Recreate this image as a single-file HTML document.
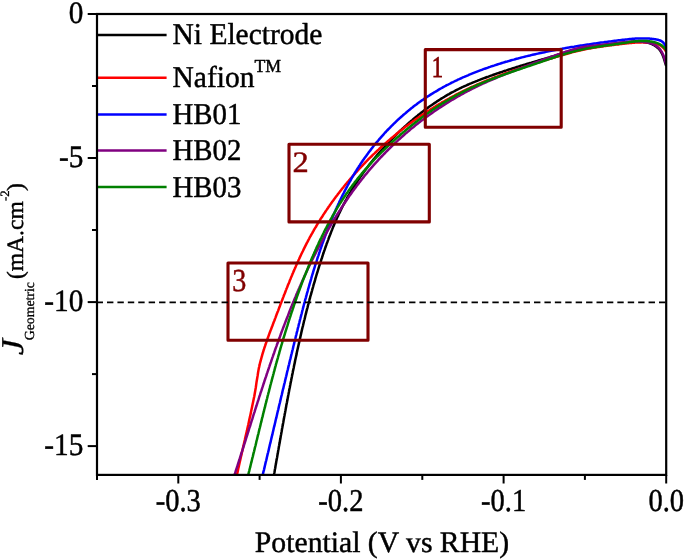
<!DOCTYPE html>
<html lang="en"><head><meta charset="utf-8"><title>HER polarization curves</title>
<style>html,body{margin:0;padding:0;background:#fff}body{width:685px;height:559px;overflow:hidden}</style>
</head><body>
<svg width="685" height="559" viewBox="0 0 685 559" style="display:block;will-change:transform" text-rendering="geometricPrecision">
<rect width="685" height="559" fill="#fff"/>
<defs><clipPath id="plot"><rect x="97.0" y="14.0" width="569.2" height="460.9"/></clipPath></defs>
<g clip-path="url(#plot)" fill="none" stroke-width="2.5" stroke-linejoin="round">
<path d="M666.2,66.0 L666.1,65.7 L666.0,65.4 L665.9,65.1 L665.8,64.8 L665.8,64.7 L665.7,64.4 L665.6,64.1 L665.5,63.8 L665.4,63.5 L665.4,63.4 L665.3,63.2 L665.2,62.8 L665.1,62.5 L665.0,62.2 L665.0,62.1 L664.9,61.9 L664.8,61.5 L664.7,61.2 L664.6,60.9 L664.6,60.8 L664.5,60.5 L664.4,60.2 L664.3,59.9 L664.2,59.6 L664.2,59.5 L664.1,59.2 L664.0,58.9 L663.9,58.6 L663.8,58.3 L663.8,58.1 L663.7,57.9 L663.6,57.6 L663.5,57.3 L663.4,57.0 L663.3,56.8 L663.2,56.6 L663.1,56.3 L663.0,56.0 L662.9,55.7 L662.8,55.5 L662.7,55.4 L662.6,55.1 L662.5,54.8 L662.4,54.5 L662.3,54.3 L662.2,54.2 L662.1,53.8 L661.9,53.5 L661.8,53.3 L661.7,53.1 L661.6,53.0 L661.5,52.7 L661.3,52.4 L661.2,52.1 L661.1,51.9 L661.0,51.8 L660.8,51.5 L660.7,51.2 L660.5,51.0 L660.3,50.8 L660.3,50.7 L660.1,50.4 L659.9,50.2 L659.7,49.9 L659.5,49.7 L659.5,49.7 L659.3,49.4 L659.1,49.1 L658.8,48.9 L658.6,48.7 L658.6,48.7 L658.3,48.4 L658.1,48.2 L657.8,48.0 L657.6,47.7 L657.6,47.7 L657.3,47.5 L657.1,47.3 L656.8,47.1 L656.5,46.9 L656.5,46.9 L656.3,46.7 L656.0,46.5 L655.7,46.3 L655.4,46.1 L655.4,46.0 L655.1,45.9 L654.8,45.7 L654.6,45.5 L654.3,45.4 L654.2,45.3 L654.0,45.2 L653.7,45.0 L653.4,44.9 L653.1,44.7 L653.0,44.7 L652.8,44.6 L652.5,44.4 L652.2,44.3 L651.9,44.1 L651.8,44.1 L651.6,44.0 L651.3,43.9 L651.0,43.8 L650.7,43.6 L650.6,43.6 L650.4,43.5 L650.0,43.4 L649.7,43.3 L649.4,43.2 L649.3,43.2 L649.1,43.1 L648.8,43.0 L648.5,42.9 L648.2,42.8 L648.0,42.8 L647.8,42.7 L647.5,42.7 L647.2,42.6 L646.9,42.5 L646.7,42.5 L646.6,42.4 L646.2,42.4 L645.9,42.3 L645.6,42.3 L645.4,42.2 L645.3,42.2 L644.9,42.1 L644.6,42.1 L644.3,42.0 L644.1,42.0 L644.0,42.0 L643.6,42.0 L643.3,41.9 L643.0,41.9 L642.7,41.9 L642.6,41.8 L642.3,41.8 L642.0,41.8 L641.6,41.8 L641.4,41.7 L641.3,41.7 L641.0,41.7 L640.6,41.7 L640.3,41.7 L640.0,41.7 L640.0,41.7 L639.6,41.6 L638.6,41.6 L637.2,41.6 L635.9,41.6 L634.5,41.7 L633.1,41.8 L631.7,41.8 L630.3,41.9 L628.9,42.0 L627.5,42.2 L626.1,42.3 L624.8,42.4 L623.4,42.6 L622.0,42.7 L620.6,42.9 L619.3,43.0 L617.9,43.2 L616.5,43.4 L615.2,43.5 L613.8,43.7 L612.4,43.9 L611.1,44.1 L609.7,44.2 L608.4,44.4 L607.0,44.6 L605.7,44.8 L604.3,45.0 L603.0,45.2 L601.7,45.4 L600.3,45.6 L599.0,45.8 L597.6,46.0 L596.3,46.2 L595.0,46.3 L593.6,46.5 L592.3,46.7 L591.0,46.9 L589.6,47.1 L588.3,47.4 L587.0,47.6 L585.7,47.8 L584.3,48.1 L583.0,48.3 L581.7,48.6 L580.4,48.8 L579.0,49.1 L577.7,49.4 L576.4,49.8 L575.1,50.1 L573.7,50.4 L572.4,50.8 L571.1,51.1 L569.8,51.5 L568.5,51.8 L567.1,52.2 L565.8,52.6 L564.5,53.0 L563.2,53.4 L561.8,53.7 L560.5,54.1 L559.2,54.5 L557.9,54.9 L556.6,55.3 L555.2,55.7 L553.9,56.1 L552.6,56.4 L551.3,56.8 L549.9,57.2 L548.6,57.6 L547.3,58.0 L546.0,58.4 L544.6,58.8 L543.3,59.1 L542.0,59.5 L540.7,59.9 L539.3,60.3 L538.0,60.7 L536.7,61.1 L535.4,61.5 L534.1,61.9 L532.7,62.3 L531.4,62.7 L530.1,63.0 L528.8,63.4 L527.4,63.8 L526.1,64.2 L524.8,64.6 L523.5,65.0 L522.2,65.4 L520.9,65.8 L519.6,66.2 L518.2,66.6 L516.9,67.0 L515.6,67.5 L514.3,67.9 L513.0,68.3 L511.7,68.7 L510.4,69.1 L509.1,69.5 L507.8,69.9 L506.5,70.4 L505.2,70.8 L503.9,71.2 L502.6,71.7 L501.3,72.1 L500.0,72.5 L498.7,73.0 L497.4,73.4 L496.1,73.8 L494.8,74.3 L493.6,74.7 L492.3,75.2 L491.0,75.6 L489.7,76.1 L488.5,76.6 L487.2,77.0 L485.9,77.5 L484.6,78.0 L483.4,78.4 L482.1,78.9 L480.8,79.4 L479.6,79.9 L478.3,80.4 L477.1,80.9 L475.8,81.4 L474.6,81.9 L473.3,82.4 L472.1,82.9 L470.9,83.4 L469.6,83.9 L468.4,84.5 L467.1,85.0 L465.9,85.6 L464.7,86.1 L463.5,86.7 L462.3,87.2 L461.0,87.8 L459.8,88.4 L458.6,89.0 L457.4,89.6 L456.2,90.2 L455.0,90.8 L453.8,91.5 L452.6,92.1 L451.4,92.7 L450.2,93.4 L449.1,94.1 L447.9,94.7 L446.7,95.4 L445.5,96.1 L444.4,96.8 L443.2,97.5 L442.1,98.2 L440.9,98.9 L439.7,99.7 L438.6,100.4 L437.4,101.1 L436.3,101.9 L435.2,102.7 L434.0,103.4 L432.9,104.2 L431.8,105.0 L430.6,105.8 L429.5,106.5 L428.4,107.3 L427.3,108.2 L426.2,109.0 L425.1,109.8 L424.0,110.6 L422.9,111.4 L421.8,112.3 L420.7,113.1 L419.6,114.0 L418.5,114.8 L417.5,115.7 L416.4,116.6 L415.3,117.4 L414.3,118.3 L413.2,119.2 L412.2,120.1 L411.1,121.0 L410.1,121.9 L409.0,122.8 L408.0,123.7 L406.9,124.6 L405.9,125.6 L404.9,126.5 L403.9,127.4 L402.8,128.4 L401.8,129.3 L400.8,130.3 L399.8,131.2 L398.8,132.2 L397.8,133.1 L396.8,134.1 L395.9,135.1 L394.9,136.0 L393.9,137.0 L392.9,138.0 L392.0,139.0 L391.0,140.0 L390.0,141.0 L389.1,141.9 L388.1,142.9 L387.2,144.0 L386.2,145.0 L385.3,146.0 L384.4,147.0 L383.5,148.0 L382.5,149.0 L381.6,150.0 L380.7,151.1 L379.8,152.1 L378.9,153.1 L378.0,154.2 L377.1,155.2 L376.2,156.3 L375.4,157.3 L374.5,158.4 L373.6,159.4 L372.7,160.5 L371.9,161.5 L371.0,162.6 L370.2,163.7 L369.3,164.7 L368.5,165.8 L367.7,166.9 L366.9,168.0 L366.0,169.1 L365.2,170.2 L364.4,171.2 L363.6,172.3 L362.8,173.4 L362.0,174.5 L361.2,175.7 L360.4,176.8 L359.7,177.9 L358.9,179.0 L358.1,180.1 L357.4,181.3 L356.6,182.4 L355.9,183.5 L355.1,184.7 L354.4,185.8 L353.7,186.9 L353.0,188.1 L352.2,189.2 L351.5,190.4 L350.8,191.6 L350.1,192.7 L349.5,193.9 L348.8,195.1 L348.1,196.2 L347.4,197.4 L346.8,198.6 L346.1,199.8 L345.5,201.0 L344.8,202.2 L344.2,203.4 L343.5,204.6 L342.9,205.8 L342.3,207.0 L341.7,208.2 L341.1,209.4 L340.5,210.7 L339.9,211.9 L339.3,213.1 L338.7,214.3 L338.2,215.6 L337.6,216.8 L337.0,218.1 L336.5,219.3 L335.9,220.6 L335.4,221.8 L334.8,223.1 L334.3,224.3 L333.8,225.6 L333.2,226.8 L332.7,228.1 L332.2,229.4 L331.7,230.6 L331.2,231.9 L330.7,233.2 L330.2,234.5 L329.7,235.7 L329.2,237.0 L328.7,238.3 L328.3,239.6 L327.8,240.9 L327.3,242.2 L326.8,243.4 L326.4,244.7 L325.9,246.0 L325.5,247.3 L325.0,248.6 L324.6,249.9 L324.1,251.2 L323.7,252.5 L323.2,253.8 L322.8,255.1 L322.4,256.4 L322.0,257.7 L321.5,259.0 L321.1,260.3 L320.7,261.6 L320.3,262.9 L319.9,264.2 L319.4,265.5 L319.0,266.8 L318.6,268.2 L318.2,269.5 L317.8,270.8 L317.4,272.1 L317.0,273.4 L316.6,274.7 L316.2,276.0 L315.8,277.3 L315.4,278.6 L315.1,279.9 L314.7,281.3 L314.3,282.6 L313.9,283.9 L313.5,285.2 L313.2,286.5 L312.8,287.8 L312.4,289.1 L312.1,290.5 L311.7,291.8 L311.3,293.1 L311.0,294.4 L310.6,295.7 L310.2,297.0 L309.9,298.4 L309.5,299.7 L309.2,301.0 L308.8,302.3 L308.5,303.6 L308.1,305.0 L307.8,306.3 L307.5,307.6 L307.1,308.9 L306.8,310.2 L306.4,311.6 L306.1,312.9 L305.8,314.2 L305.4,315.5 L305.1,316.9 L304.8,318.2 L304.5,319.5 L304.1,320.8 L303.8,322.2 L303.5,323.5 L303.2,324.8 L302.9,326.1 L302.5,327.5 L302.2,328.8 L301.9,330.1 L301.6,331.4 L301.3,332.8 L301.0,334.1 L300.7,335.4 L300.4,336.8 L300.1,338.1 L299.8,339.4 L299.5,340.8 L299.2,342.1 L298.9,343.4 L298.6,344.7 L298.3,346.1 L298.0,347.4 L297.7,348.7 L297.4,350.1 L297.1,351.4 L296.8,352.7 L296.6,354.1 L296.3,355.4 L296.0,356.7 L295.7,358.1 L295.4,359.4 L295.1,360.7 L294.9,362.1 L294.6,363.4 L294.3,364.8 L294.0,366.1 L293.8,367.4 L293.5,368.8 L293.2,370.1 L292.9,371.4 L292.7,372.8 L292.4,374.1 L292.1,375.4 L291.9,376.8 L291.6,378.1 L291.3,379.5 L291.1,380.8 L290.8,382.1 L290.5,383.5 L290.3,384.8 L290.0,386.2 L289.8,387.5 L289.5,388.8 L289.2,390.2 L289.0,391.5 L288.7,392.9 L288.5,394.2 L288.2,395.5 L288.0,396.9 L287.7,398.2 L287.5,399.6 L287.2,400.9 L287.0,402.3 L286.7,403.6 L286.4,404.9 L286.2,406.3 L286.0,407.6 L285.7,409.0 L285.5,410.3 L285.2,411.7 L285.0,413.0 L284.7,414.3 L284.5,415.7 L284.2,417.0 L284.0,418.4 L283.7,419.7 L283.5,421.1 L283.3,422.4 L283.0,423.8 L282.8,425.1 L282.5,426.4 L282.3,427.8 L282.0,429.1 L281.8,430.5 L281.6,431.8 L281.3,433.2 L281.1,434.5 L280.8,435.9 L280.6,437.2 L280.4,438.6 L280.1,439.9 L279.9,441.2 L279.7,442.6 L279.4,443.9 L279.2,445.3 L278.9,446.6 L278.7,448.0 L278.5,449.3 L278.2,450.7 L278.0,452.0 L277.8,453.4 L277.5,454.7 L277.3,456.1 L277.1,457.4 L276.8,458.8 L276.6,460.1 L276.3,461.5 L276.1,462.8 L275.9,464.1 L275.6,465.5 L275.4,466.8 L275.2,468.2 L274.9,469.5 L274.7,470.9 L274.5,472.2 L274.2,473.6 L274.0,474.9 L273.7,476.3 L273.5,477.6 L273.3,479.0 L273.0,480.3 L272.8,481.7 L272.6,483.0" stroke="#000000"/>
<path d="M666.3,52.0 L666.1,51.7 L666.0,51.4 L665.8,51.1 L665.7,51.0 L665.6,50.8 L665.4,50.5 L665.2,50.2 L665.1,50.0 L665.0,49.9 L664.8,49.6 L664.6,49.3 L664.4,49.1 L664.4,49.0 L664.2,48.8 L664.0,48.5 L663.7,48.3 L663.6,48.1 L663.5,48.0 L663.3,47.8 L663.0,47.6 L662.8,47.3 L662.8,47.3 L662.5,47.1 L662.3,46.9 L662.0,46.7 L661.9,46.6 L661.8,46.5 L661.5,46.3 L661.2,46.1 L661.0,45.9 L661.0,45.9 L660.7,45.7 L660.4,45.5 L660.1,45.4 L660.0,45.3 L659.8,45.2 L659.5,45.0 L659.3,44.9 L659.0,44.8 L659.0,44.7 L658.7,44.6 L658.4,44.5 L658.1,44.4 L658.0,44.3 L657.7,44.2 L657.4,44.1 L657.1,44.0 L657.0,44.0 L656.8,43.9 L656.5,43.8 L656.2,43.7 L655.9,43.6 L655.9,43.6 L655.5,43.6 L655.2,43.5 L654.9,43.4 L654.8,43.4 L654.6,43.3 L654.2,43.3 L653.9,43.2 L653.7,43.2 L653.6,43.1 L653.2,43.1 L652.9,43.0 L652.6,43.0 L652.5,43.0 L652.2,42.9 L651.9,42.9 L651.6,42.8 L651.4,42.8 L651.2,42.8 L650.9,42.8 L650.6,42.7 L650.2,42.7 L650.2,42.7 L649.9,42.7 L649.5,42.6 L649.2,42.6 L649.1,42.6 L648.9,42.6 L648.5,42.6 L648.2,42.5 L647.9,42.5 L647.9,42.5 L647.5,42.5 L647.2,42.5 L646.8,42.5 L646.8,42.4 L646.5,42.4 L646.2,42.4 L645.8,42.4 L645.6,42.4 L645.5,42.4 L645.2,42.4 L644.8,42.4 L644.5,42.4 L644.5,42.4 L644.2,42.4 L643.8,42.4 L643.5,42.4 L643.3,42.3 L643.1,42.3 L642.8,42.3 L642.5,42.3 L642.2,42.3 L642.1,42.3 L641.8,42.3 L641.5,42.4 L641.1,42.4 L641.0,42.4 L640.8,42.4 L640.5,42.4 L640.1,42.4 L639.9,42.4 L639.8,42.4 L639.4,42.4 L639.1,42.4 L638.8,42.4 L638.7,42.4 L638.4,42.4 L638.1,42.4 L637.8,42.5 L637.6,42.5 L637.4,42.5 L637.1,42.5 L636.8,42.5 L636.5,42.5 L636.4,42.5 L636.1,42.5 L635.8,42.6 L635.4,42.6 L635.3,42.6 L635.1,42.6 L634.7,42.6 L634.4,42.7 L634.2,42.7 L634.1,42.7 L633.7,42.7 L633.4,42.7 L633.1,42.8 L633.0,42.8 L632.7,42.8 L632.4,42.8 L632.1,42.8 L631.9,42.9 L631.7,42.9 L631.4,42.9 L631.1,42.9 L630.7,43.0 L630.7,43.0 L630.4,43.0 L630.1,43.0 L629.7,43.1 L629.6,43.1 L628.5,43.2 L627.3,43.3 L626.2,43.4 L625.0,43.6 L623.9,43.7 L622.7,43.8 L621.6,44.0 L620.5,44.1 L619.3,44.2 L618.2,44.4 L617.1,44.5 L615.9,44.6 L614.8,44.8 L613.6,44.9 L612.5,45.1 L611.4,45.2 L610.2,45.3 L609.1,45.5 L607.9,45.6 L606.8,45.8 L605.7,45.9 L604.5,46.1 L603.4,46.2 L602.3,46.4 L601.1,46.5 L600.0,46.7 L598.9,46.9 L597.7,47.0 L596.6,47.2 L595.5,47.4 L594.3,47.6 L593.2,47.8 L592.1,48.0 L591.0,48.2 L589.8,48.4 L588.7,48.6 L587.6,48.8 L586.4,49.0 L585.3,49.2 L584.2,49.5 L583.1,49.7 L581.9,49.9 L580.8,50.2 L579.7,50.4 L578.6,50.7 L577.4,51.0 L576.3,51.3 L575.2,51.5 L574.1,51.8 L572.9,52.1 L571.8,52.4 L570.7,52.7 L569.6,53.0 L568.5,53.4 L567.3,53.7 L566.2,54.0 L565.1,54.3 L564.0,54.6 L562.9,55.0 L561.8,55.3 L560.7,55.6 L559.5,55.9 L558.4,56.3 L557.3,56.6 L556.2,56.9 L555.1,57.3 L554.0,57.6 L552.9,57.9 L551.8,58.3 L550.7,58.6 L549.5,58.9 L548.4,59.3 L547.3,59.6 L546.2,59.9 L545.1,60.3 L544.0,60.6 L542.9,60.9 L541.8,61.3 L540.7,61.6 L539.6,61.9 L538.5,62.3 L537.4,62.6 L536.3,63.0 L535.2,63.3 L534.1,63.7 L533.0,64.0 L531.9,64.4 L530.9,64.7 L529.8,65.0 L528.7,65.4 L527.6,65.8 L526.5,66.1 L525.4,66.5 L524.3,66.8 L523.2,67.2 L522.1,67.5 L521.1,67.9 L520.0,68.3 L518.9,68.6 L517.8,69.0 L516.7,69.4 L515.7,69.7 L514.6,70.1 L513.5,70.5 L512.4,70.8 L511.3,71.2 L510.3,71.6 L509.2,72.0 L508.1,72.4 L507.1,72.7 L506.0,73.1 L504.9,73.5 L503.9,73.9 L502.8,74.3 L501.7,74.7 L500.7,75.1 L499.6,75.5 L498.5,75.9 L497.5,76.3 L496.4,76.7 L495.3,77.1 L494.3,77.5 L493.2,77.9 L492.2,78.3 L491.1,78.8 L490.1,79.2 L489.0,79.6 L488.0,80.0 L486.9,80.4 L485.9,80.9 L484.8,81.3 L483.8,81.7 L482.7,82.2 L481.7,82.6 L480.6,83.1 L479.6,83.5 L478.6,84.0 L477.5,84.4 L476.5,84.9 L475.5,85.3 L474.4,85.8 L473.4,86.3 L472.4,86.7 L471.3,87.2 L470.3,87.7 L469.3,88.2 L468.2,88.6 L467.2,89.1 L466.2,89.6 L465.2,90.1 L464.1,90.6 L463.1,91.1 L462.1,91.6 L461.1,92.1 L460.1,92.6 L459.1,93.1 L458.0,93.7 L457.0,94.2 L456.0,94.7 L455.0,95.2 L454.0,95.8 L453.0,96.3 L452.0,96.8 L451.0,97.4 L450.0,97.9 L449.0,98.5 L448.0,99.0 L447.0,99.6 L446.0,100.1 L445.0,100.7 L444.0,101.3 L443.0,101.8 L442.0,102.4 L441.1,103.0 L440.1,103.6 L439.1,104.1 L438.1,104.7 L437.1,105.3 L436.1,105.9 L435.2,106.5 L434.2,107.1 L433.2,107.7 L432.3,108.3 L431.3,108.9 L430.3,109.5 L429.3,110.2 L428.4,110.8 L427.4,111.4 L426.5,112.0 L425.5,112.7 L424.5,113.3 L423.6,113.9 L422.6,114.6 L421.7,115.2 L420.7,115.9 L419.8,116.5 L418.8,117.2 L417.9,117.8 L417.0,118.5 L416.0,119.1 L415.1,119.8 L414.1,120.5 L413.2,121.1 L412.3,121.8 L411.3,122.5 L410.4,123.2 L409.5,123.8 L408.6,124.5 L407.6,125.2 L406.7,125.9 L405.8,126.6 L404.9,127.3 L404.0,128.0 L403.1,128.7 L402.2,129.4 L401.3,130.1 L400.3,130.8 L399.4,131.6 L398.5,132.3 L397.6,133.0 L396.7,133.7 L395.9,134.5 L395.0,135.2 L394.1,135.9 L393.2,136.7 L392.3,137.4 L391.4,138.1 L390.5,138.9 L389.7,139.6 L388.8,140.4 L387.9,141.1 L387.0,141.9 L386.2,142.7 L385.3,143.4 L384.4,144.2 L383.6,144.9 L382.7,145.7 L381.9,146.5 L381.0,147.3 L380.2,148.0 L379.3,148.8 L378.5,149.6 L377.6,150.4 L376.8,151.2 L375.9,152.0 L375.1,152.8 L374.3,153.6 L373.4,154.4 L372.6,155.2 L371.8,156.0 L371.0,156.8 L370.1,157.6 L369.3,158.4 L368.5,159.2 L367.7,160.0 L366.9,160.9 L366.1,161.7 L365.3,162.5 L364.5,163.3 L363.7,164.2 L362.9,165.0 L362.1,165.8 L361.3,166.7 L360.5,167.5 L359.7,168.4 L358.9,169.2 L358.2,170.1 L357.4,170.9 L356.6,171.8 L355.8,172.6 L355.1,173.5 L354.3,174.3 L353.5,175.2 L352.8,176.1 L352.0,176.9 L351.3,177.8 L350.5,178.7 L349.8,179.5 L349.0,180.4 L348.3,181.3 L347.5,182.2 L346.8,183.1 L346.1,183.9 L345.3,184.8 L344.6,185.7 L343.9,186.6 L343.2,187.5 L342.4,188.4 L341.7,189.3 L341.0,190.2 L340.3,191.1 L339.6,192.0 L338.9,192.9 L338.2,193.8 L337.5,194.8 L336.8,195.7 L336.1,196.6 L335.4,197.5 L334.7,198.4 L334.1,199.3 L333.4,200.3 L332.7,201.2 L332.0,202.1 L331.4,203.1 L330.7,204.0 L330.0,204.9 L329.4,205.9 L328.7,206.8 L328.1,207.7 L327.4,208.7 L326.8,209.6 L326.1,210.6 L325.5,211.5 L324.9,212.5 L324.2,213.4 L323.6,214.4 L323.0,215.3 L322.4,216.3 L321.8,217.3 L321.1,218.2 L320.5,219.2 L319.9,220.2 L319.3,221.1 L318.7,222.1 L318.1,223.1 L317.5,224.0 L316.9,225.0 L316.4,226.0 L315.8,227.0 L315.2,227.9 L314.6,228.9 L314.0,229.9 L313.5,230.9 L312.9,231.9 L312.4,232.9 L311.8,233.9 L311.2,234.9 L310.7,235.9 L310.1,236.8 L309.6,237.8 L309.1,238.8 L308.5,239.8 L308.0,240.9 L307.5,241.9 L306.9,242.9 L306.4,243.9 L305.9,244.9 L305.4,245.9 L304.9,246.9 L304.4,247.9 L303.9,248.9 L303.4,249.9 L302.9,251.0 L302.4,252.0 L301.9,253.0 L301.4,254.0 L300.9,255.1 L300.4,256.1 L300.0,257.1 L299.5,258.1 L299.0,259.2 L298.5,260.2 L298.1,261.2 L297.6,262.3 L297.2,263.3 L296.7,264.3 L296.2,265.4 L295.8,266.4 L295.3,267.5 L294.9,268.5 L294.4,269.5 L294.0,270.6 L293.5,271.6 L293.1,272.7 L292.6,273.7 L292.2,274.8 L291.8,275.8 L291.3,276.9 L290.9,277.9 L290.5,279.0 L290.0,280.0 L289.6,281.1 L289.2,282.2 L288.8,283.2 L288.3,284.3 L287.9,285.3 L287.5,286.4 L287.1,287.5 L286.6,288.5 L286.2,289.6 L285.8,290.6 L285.4,291.7 L285.0,292.8 L284.6,293.8 L284.1,294.9 L283.7,296.0 L283.3,297.1 L282.9,298.1 L282.5,299.2 L282.1,300.3 L281.7,301.3 L281.3,302.4 L280.8,303.5 L280.4,304.6 L280.0,305.7 L279.6,306.7 L279.2,307.8 L278.8,308.9 L278.4,310.0 L278.0,311.1 L277.6,312.1 L277.1,313.2 L276.7,314.3 L276.3,315.4 L275.9,316.5 L275.5,317.6 L275.1,318.6 L274.7,319.7 L274.3,320.8 L273.8,321.9 L273.4,323.0 L273.0,324.1 L272.6,325.2 L272.2,326.3 L271.8,327.3 L271.4,328.4 L271.0,329.5 L270.5,330.6 L270.1,331.7 L269.7,332.8 L269.3,333.9 L268.9,335.0 L268.5,336.1 L268.1,337.2 L267.7,338.3 L267.3,339.4 L267.0,340.5 L266.6,341.6 L266.2,342.6 L265.8,343.7 L265.4,344.8 L265.1,345.9 L264.7,347.0 L264.3,348.1 L264.0,349.2 L263.6,350.3 L263.3,351.4 L263.0,352.5 L262.6,353.6 L262.3,354.7 L262.0,355.8 L261.7,356.9 L261.4,358.0 L261.1,359.1 L260.8,360.2 L260.5,361.3 L260.2,362.4 L259.9,363.5 L259.7,364.6 L259.4,365.7 L259.2,366.8 L258.9,367.9 L258.7,369.0 L258.5,370.1 L258.0,373.0 L257.6,375.9 L257.1,378.8 L256.6,381.7 L256.2,384.6 L255.8,387.5 L255.3,390.4 L254.8,393.3 L254.3,396.2 L253.7,399.0 L253.1,401.9 L252.5,404.8 L251.9,407.7 L251.3,410.6 L250.7,413.5 L250.1,416.4 L249.4,419.3 L248.8,422.2 L248.2,425.1 L247.5,428.0 L246.9,430.9 L246.2,433.8 L245.5,436.7 L244.9,439.6 L244.2,442.5 L243.6,445.4 L242.9,448.3 L242.2,451.2 L241.6,454.1 L240.9,456.9 L240.3,459.8 L239.6,462.7 L239.0,465.6 L238.3,468.5 L237.7,471.4 L237.1,474.3 L236.4,477.2 L235.8,480.1 L235.2,483.0" stroke="#ff0000"/>
<path d="M666.2,48.6 L666.1,48.3 L666.1,48.0 L666.0,47.7 L665.9,47.3 L665.9,47.3 L665.8,47.0 L665.7,46.7 L665.6,46.3 L665.5,46.0 L665.5,46.0 L665.3,45.7 L665.2,45.4 L665.0,45.1 L664.9,44.7 L664.8,44.7 L664.7,44.4 L664.5,44.1 L664.3,43.8 L664.1,43.6 L664.0,43.5 L663.9,43.3 L663.7,43.0 L663.4,42.8 L663.2,42.5 L663.1,42.4 L663.0,42.3 L662.7,42.1 L662.5,41.8 L662.2,41.6 L662.1,41.6 L661.9,41.5 L661.6,41.3 L661.4,41.1 L661.1,41.0 L660.9,40.9 L660.8,40.8 L660.5,40.7 L660.2,40.5 L659.9,40.4 L659.7,40.4 L659.6,40.3 L659.3,40.2 L659.0,40.1 L658.6,40.0 L658.4,39.9 L658.3,39.9 L658.0,39.8 L657.7,39.8 L657.4,39.7 L657.1,39.6 L657.0,39.6 L656.7,39.6 L656.4,39.5 L656.0,39.4 L655.8,39.4 L655.7,39.4 L655.4,39.3 L655.1,39.3 L654.7,39.2 L654.4,39.2 L654.4,39.2 L654.1,39.1 L653.7,39.1 L653.4,39.0 L653.1,39.0 L653.0,39.0 L652.7,38.9 L652.4,38.9 L652.1,38.9 L651.7,38.8 L651.7,38.8 L651.4,38.8 L651.1,38.7 L650.7,38.7 L650.4,38.7 L650.3,38.7 L650.1,38.7 L649.7,38.6 L649.4,38.6 L649.1,38.6 L649.0,38.6 L648.7,38.5 L648.4,38.5 L648.1,38.5 L647.7,38.5 L647.6,38.5 L647.4,38.5 L647.1,38.4 L646.7,38.4 L646.4,38.4 L646.2,38.4 L646.1,38.4 L645.7,38.4 L645.4,38.4 L645.1,38.4 L644.9,38.4 L644.7,38.4 L644.4,38.4 L644.0,38.4 L643.7,38.4 L643.5,38.4 L643.4,38.4 L643.0,38.4 L642.7,38.4 L642.4,38.4 L642.1,38.4 L642.0,38.4 L641.7,38.4 L641.4,38.4 L641.0,38.4 L640.8,38.4 L640.7,38.4 L640.3,38.4 L640.0,38.4 L639.7,38.4 L639.4,38.4 L639.3,38.4 L639.0,38.4 L638.7,38.4 L638.3,38.5 L638.0,38.5 L638.0,38.5 L637.6,38.5 L637.3,38.5 L637.0,38.5 L636.6,38.5 L636.6,38.5 L636.3,38.6 L636.0,38.6 L635.6,38.6 L635.3,38.6 L635.2,38.6 L634.9,38.6 L634.6,38.7 L634.3,38.7 L633.9,38.7 L633.9,38.7 L633.6,38.7 L633.3,38.8 L632.9,38.8 L632.6,38.8 L632.5,38.8 L632.2,38.8 L631.9,38.9 L631.6,38.9 L631.2,38.9 L631.1,38.9 L630.9,39.0 L629.7,39.1 L628.3,39.2 L627.0,39.4 L625.6,39.5 L624.2,39.7 L622.8,39.8 L621.4,40.0 L620.1,40.2 L618.7,40.3 L617.3,40.5 L616.0,40.7 L614.6,40.8 L613.2,41.0 L611.9,41.2 L610.5,41.4 L609.1,41.5 L607.8,41.7 L606.4,41.9 L605.0,42.1 L603.7,42.3 L602.3,42.4 L601.0,42.6 L599.6,42.8 L598.3,43.0 L596.9,43.2 L595.6,43.4 L594.2,43.6 L592.9,43.8 L591.5,44.0 L590.2,44.2 L588.8,44.4 L587.5,44.6 L586.1,44.8 L584.8,45.0 L583.4,45.2 L582.1,45.4 L580.8,45.6 L579.4,45.8 L578.1,46.0 L576.7,46.2 L575.4,46.4 L574.1,46.7 L572.7,46.9 L571.4,47.1 L570.0,47.3 L568.7,47.6 L567.4,47.8 L566.0,48.0 L564.7,48.3 L563.3,48.5 L562.0,48.8 L560.7,49.0 L559.3,49.2 L558.0,49.5 L556.7,49.8 L555.3,50.0 L554.0,50.3 L552.7,50.5 L551.3,50.8 L550.0,51.1 L548.6,51.3 L547.3,51.6 L546.0,51.9 L544.6,52.2 L543.3,52.4 L542.0,52.7 L540.6,53.0 L539.3,53.3 L537.9,53.6 L536.6,53.9 L535.3,54.2 L533.9,54.5 L532.6,54.8 L531.2,55.1 L529.9,55.5 L528.6,55.8 L527.2,56.1 L525.9,56.4 L524.5,56.8 L523.2,57.1 L521.9,57.4 L520.5,57.8 L519.2,58.1 L517.9,58.5 L516.5,58.8 L515.2,59.2 L513.8,59.6 L512.5,59.9 L511.2,60.3 L509.8,60.7 L508.5,61.1 L507.2,61.5 L505.8,61.8 L504.5,62.2 L503.2,62.6 L501.9,63.0 L500.5,63.5 L499.2,63.9 L497.9,64.3 L496.6,64.7 L495.3,65.1 L493.9,65.6 L492.6,66.0 L491.3,66.4 L490.0,66.9 L488.7,67.3 L487.4,67.8 L486.1,68.3 L484.8,68.7 L483.5,69.2 L482.2,69.7 L480.9,70.1 L479.6,70.6 L478.3,71.1 L477.0,71.6 L475.7,72.1 L474.4,72.6 L473.1,73.1 L471.8,73.7 L470.6,74.2 L469.3,74.7 L468.0,75.3 L466.7,75.8 L465.5,76.3 L464.2,76.9 L462.9,77.4 L461.7,78.0 L460.4,78.6 L459.2,79.2 L457.9,79.7 L456.7,80.3 L455.4,80.9 L454.2,81.5 L453.0,82.1 L451.7,82.7 L450.5,83.4 L449.3,84.0 L448.1,84.6 L446.8,85.2 L445.6,85.9 L444.4,86.5 L443.2,87.2 L442.0,87.9 L440.8,88.5 L439.6,89.2 L438.4,89.9 L437.3,90.6 L436.1,91.3 L434.9,92.0 L433.7,92.7 L432.6,93.4 L431.4,94.1 L430.2,94.9 L429.1,95.6 L427.9,96.3 L426.8,97.1 L425.7,97.8 L424.5,98.6 L423.4,99.4 L422.3,100.2 L421.1,100.9 L420.0,101.7 L418.9,102.5 L417.8,103.3 L416.7,104.2 L415.6,105.0 L414.5,105.8 L413.5,106.6 L412.4,107.5 L411.3,108.3 L410.2,109.2 L409.2,110.1 L408.1,110.9 L407.1,111.8 L406.0,112.7 L405.0,113.6 L403.9,114.5 L402.9,115.3 L401.9,116.3 L400.8,117.2 L399.8,118.1 L398.8,119.0 L397.8,119.9 L396.8,120.9 L395.8,121.8 L394.8,122.8 L393.9,123.7 L392.9,124.7 L391.9,125.6 L390.9,126.6 L390.0,127.6 L389.0,128.6 L388.1,129.5 L387.1,130.5 L386.2,131.5 L385.2,132.5 L384.3,133.5 L383.4,134.6 L382.5,135.6 L381.6,136.6 L380.7,137.6 L379.8,138.7 L378.9,139.7 L378.0,140.8 L377.1,141.8 L376.2,142.9 L375.4,143.9 L374.5,145.0 L373.6,146.0 L372.8,147.1 L371.9,148.2 L371.1,149.3 L370.3,150.4 L369.4,151.5 L368.6,152.6 L367.8,153.7 L367.0,154.8 L366.2,155.9 L365.4,157.0 L364.6,158.1 L363.8,159.2 L363.0,160.3 L362.2,161.5 L361.5,162.6 L360.7,163.7 L360.0,164.9 L359.2,166.0 L358.5,167.2 L357.7,168.3 L357.0,169.5 L356.3,170.7 L355.5,171.8 L354.8,173.0 L354.1,174.2 L353.4,175.3 L352.7,176.5 L352.0,177.7 L351.3,178.9 L350.7,180.1 L350.0,181.3 L349.3,182.4 L348.7,183.6 L348.0,184.8 L347.4,186.0 L346.7,187.3 L346.1,188.5 L345.4,189.7 L344.8,190.9 L344.2,192.1 L343.6,193.3 L342.9,194.6 L342.3,195.8 L341.7,197.0 L341.1,198.2 L340.5,199.5 L339.9,200.7 L339.3,202.0 L338.8,203.2 L338.2,204.4 L337.6,205.7 L337.0,206.9 L336.5,208.2 L335.9,209.4 L335.4,210.7 L334.8,212.0 L334.3,213.2 L333.7,214.5 L333.2,215.7 L332.7,217.0 L332.1,218.3 L331.6,219.5 L331.1,220.8 L330.6,222.1 L330.1,223.3 L329.5,224.6 L329.0,225.9 L328.5,227.2 L328.0,228.5 L327.5,229.7 L327.1,231.0 L326.6,232.3 L326.1,233.6 L325.6,234.9 L325.1,236.2 L324.7,237.4 L324.2,238.7 L323.7,240.0 L323.3,241.3 L322.8,242.6 L322.3,243.9 L321.9,245.2 L321.4,246.5 L321.0,247.8 L320.5,249.1 L320.1,250.4 L319.7,251.7 L319.2,253.0 L318.8,254.3 L318.4,255.6 L317.9,256.9 L317.5,258.2 L317.1,259.5 L316.7,260.8 L316.3,262.1 L315.8,263.4 L315.4,264.7 L315.0,266.0 L314.6,267.3 L314.2,268.6 L313.8,269.9 L313.4,271.2 L313.0,272.6 L312.6,273.9 L312.2,275.2 L311.8,276.5 L311.4,277.8 L311.1,279.1 L310.7,280.4 L310.3,281.8 L309.9,283.1 L309.5,284.4 L309.2,285.7 L308.8,287.0 L308.4,288.3 L308.0,289.7 L307.7,291.0 L307.3,292.3 L306.9,293.6 L306.6,294.9 L306.2,296.3 L305.9,297.6 L305.5,298.9 L305.1,300.2 L304.8,301.6 L304.4,302.9 L304.1,304.2 L303.7,305.5 L303.4,306.9 L303.0,308.2 L302.7,309.5 L302.3,310.8 L302.0,312.2 L301.7,313.5 L301.3,314.8 L301.0,316.2 L300.6,317.5 L300.3,318.8 L299.9,320.2 L299.6,321.5 L299.3,322.8 L298.9,324.1 L298.6,325.5 L298.3,326.8 L297.9,328.1 L297.6,329.5 L297.3,330.8 L296.9,332.1 L296.6,333.5 L296.3,334.8 L295.9,336.2 L295.6,337.5 L295.3,338.8 L294.9,340.2 L294.6,341.5 L294.3,342.8 L294.0,344.2 L293.6,345.5 L293.3,346.8 L293.0,348.2 L292.7,349.5 L292.3,350.9 L292.0,352.2 L291.7,353.5 L291.3,354.9 L291.0,356.2 L290.7,357.6 L290.4,358.9 L290.0,360.2 L289.7,361.6 L289.4,362.9 L289.1,364.3 L288.7,365.6 L288.4,366.9 L288.1,368.3 L287.8,369.6 L287.4,371.0 L287.1,372.3 L286.8,373.6 L286.5,375.0 L286.2,376.3 L285.8,377.7 L285.5,379.0 L285.2,380.3 L284.9,381.7 L284.6,383.0 L284.2,384.4 L283.9,385.7 L283.6,387.0 L283.3,388.4 L282.9,389.7 L282.6,391.1 L282.3,392.4 L282.0,393.7 L281.7,395.1 L281.3,396.4 L281.0,397.8 L280.7,399.1 L280.4,400.4 L280.1,401.8 L279.8,403.1 L279.4,404.5 L279.1,405.8 L278.8,407.1 L278.5,408.5 L278.2,409.8 L277.8,411.2 L277.5,412.5 L277.2,413.8 L276.9,415.2 L276.6,416.5 L276.3,417.9 L275.9,419.2 L275.6,420.5 L275.3,421.9 L275.0,423.2 L274.7,424.5 L274.4,425.9 L274.0,427.2 L273.7,428.5 L273.4,429.9 L273.1,431.2 L272.8,432.5 L272.5,433.9 L272.2,435.2 L271.8,436.6 L271.5,437.9 L271.2,439.2 L270.9,440.5 L270.6,441.9 L270.3,443.2 L269.9,444.5 L269.6,445.9 L269.3,447.2 L269.0,448.5 L268.7,449.9 L268.4,451.2 L268.1,452.5 L267.7,453.9 L267.4,455.2 L267.1,456.5 L266.8,457.8 L266.5,459.2 L266.2,460.5 L265.8,461.8 L265.5,463.1 L265.2,464.5 L264.9,465.8 L264.6,467.1 L264.3,468.4 L264.0,469.8 L263.6,471.1 L263.3,472.4 L263.0,473.7 L262.7,475.0 L262.4,476.4 L262.1,477.7 L261.8,479.0 L261.4,480.3 L261.1,481.6 L260.8,482.9" stroke="#0000ff"/>
<path d="M666.2,64.7 L666.1,64.4 L666.0,64.1 L665.9,63.8 L665.8,63.4 L665.8,63.4 L665.7,63.1 L665.6,62.8 L665.5,62.5 L665.5,62.1 L665.4,62.0 L665.4,61.8 L665.3,61.5 L665.2,61.1 L665.1,60.8 L665.1,60.7 L665.0,60.5 L664.9,60.2 L664.8,59.8 L664.7,59.5 L664.7,59.3 L664.6,59.2 L664.5,58.8 L664.5,58.5 L664.4,58.2 L664.3,58.0 L664.3,57.9 L664.2,57.5 L664.1,57.2 L663.9,56.9 L663.9,56.7 L663.8,56.6 L663.7,56.3 L663.6,56.0 L663.5,55.6 L663.4,55.4 L663.4,55.3 L663.3,55.0 L663.1,54.7 L663.0,54.4 L662.9,54.1 L662.9,54.1 L662.7,53.8 L662.6,53.5 L662.4,53.2 L662.3,52.9 L662.3,52.9 L662.1,52.6 L662.0,52.3 L661.8,52.0 L661.6,51.7 L661.6,51.7 L661.5,51.4 L661.3,51.1 L661.1,50.9 L660.9,50.6 L660.9,50.5 L660.7,50.3 L660.5,50.1 L660.3,49.8 L660.1,49.5 L660.0,49.4 L659.9,49.3 L659.7,49.0 L659.5,48.8 L659.2,48.5 L659.1,48.4 L659.0,48.3 L658.8,48.0 L658.5,47.8 L658.3,47.6 L658.1,47.4 L658.0,47.3 L657.8,47.1 L657.5,46.9 L657.3,46.7 L657.1,46.5 L657.0,46.5 L656.7,46.3 L656.5,46.1 L656.2,45.9 L655.9,45.7 L655.9,45.7 L655.6,45.5 L655.3,45.4 L655.1,45.2 L654.8,45.0 L654.8,45.0 L654.5,44.9 L654.2,44.7 L653.9,44.6 L653.6,44.4 L653.5,44.4 L653.3,44.3 L653.0,44.1 L652.7,44.0 L652.3,43.9 L652.3,43.8 L652.0,43.8 L651.7,43.6 L651.4,43.5 L651.1,43.4 L651.0,43.4 L650.8,43.3 L650.4,43.2 L650.1,43.1 L649.8,43.0 L649.6,43.0 L649.5,42.9 L649.1,42.8 L648.8,42.7 L648.5,42.7 L648.3,42.6 L648.1,42.6 L647.8,42.5 L647.5,42.4 L647.1,42.4 L646.9,42.3 L646.8,42.3 L646.4,42.3 L646.1,42.2 L645.8,42.1 L645.5,42.1 L645.4,42.1 L645.1,42.0 L644.7,42.0 L644.4,41.9 L644.1,41.9 L644.1,41.9 L643.7,41.9 L643.4,41.8 L643.0,41.8 L642.7,41.8 L642.7,41.8 L642.4,41.7 L642.0,41.7 L641.7,41.7 L641.3,41.7 L641.3,41.6 L641.0,41.6 L640.7,41.6 L640.3,41.6 L640.0,41.6 L639.9,41.6 L639.6,41.6 L639.3,41.6 L639.0,41.5 L638.6,41.5 L638.5,41.5 L637.1,41.5 L635.7,41.5 L634.3,41.6 L632.9,41.6 L631.6,41.7 L630.2,41.8 L628.8,41.9 L627.4,42.0 L626.1,42.1 L624.7,42.2 L623.3,42.3 L622.0,42.5 L620.6,42.6 L619.2,42.7 L617.8,42.9 L616.5,43.1 L615.1,43.2 L613.7,43.4 L612.4,43.5 L611.0,43.7 L609.6,43.9 L608.3,44.0 L606.9,44.2 L605.5,44.4 L604.2,44.5 L602.8,44.7 L601.5,44.9 L600.1,45.0 L598.7,45.2 L597.4,45.3 L596.0,45.4 L594.7,45.6 L593.3,45.7 L591.9,45.9 L590.6,46.0 L589.2,46.2 L587.9,46.4 L586.5,46.6 L585.2,46.8 L583.8,47.0 L582.5,47.2 L581.1,47.5 L579.8,47.8 L578.4,48.1 L577.1,48.4 L575.7,48.7 L574.4,49.1 L573.1,49.5 L571.7,49.9 L570.4,50.3 L569.0,50.7 L567.7,51.1 L566.4,51.5 L565.0,52.0 L563.7,52.4 L562.3,52.9 L561.0,53.4 L559.7,53.8 L558.4,54.3 L557.0,54.8 L555.7,55.2 L554.4,55.7 L553.0,56.2 L551.7,56.6 L550.4,57.1 L549.1,57.6 L547.7,58.1 L546.4,58.5 L545.1,59.0 L543.8,59.5 L542.5,60.0 L541.2,60.5 L539.8,61.0 L538.5,61.4 L537.2,61.9 L535.9,62.4 L534.6,62.9 L533.3,63.4 L532.0,63.9 L530.7,64.4 L529.4,64.9 L528.1,65.4 L526.8,65.9 L525.5,66.3 L524.2,66.8 L522.9,67.3 L521.6,67.8 L520.3,68.3 L519.0,68.8 L517.7,69.3 L516.4,69.8 L515.1,70.3 L513.9,70.8 L512.6,71.3 L511.3,71.8 L510.0,72.3 L508.7,72.9 L507.5,73.4 L506.2,73.9 L504.9,74.4 L503.6,74.9 L502.4,75.4 L501.1,75.9 L499.8,76.4 L498.6,76.9 L497.3,77.4 L496.0,78.0 L494.8,78.5 L493.5,79.0 L492.3,79.5 L491.0,80.1 L489.8,80.6 L488.5,81.2 L487.3,81.7 L486.0,82.3 L484.8,82.8 L483.5,83.4 L482.3,83.9 L481.0,84.5 L479.8,85.1 L478.6,85.7 L477.3,86.3 L476.1,86.9 L474.9,87.5 L473.6,88.1 L472.4,88.7 L471.2,89.3 L470.0,89.9 L468.8,90.6 L467.5,91.2 L466.3,91.8 L465.1,92.5 L463.9,93.1 L462.7,93.8 L461.5,94.5 L460.3,95.1 L459.1,95.8 L457.9,96.5 L456.7,97.2 L455.5,97.9 L454.3,98.6 L453.1,99.3 L451.9,100.0 L450.7,100.7 L449.5,101.4 L448.4,102.1 L447.2,102.9 L446.0,103.6 L444.8,104.4 L443.7,105.1 L442.5,105.9 L441.4,106.6 L440.2,107.4 L439.0,108.1 L437.9,108.9 L436.7,109.7 L435.6,110.5 L434.4,111.3 L433.3,112.1 L432.2,112.9 L431.0,113.7 L429.9,114.5 L428.8,115.3 L427.6,116.1 L426.5,116.9 L425.4,117.7 L424.3,118.6 L423.2,119.4 L422.0,120.3 L420.9,121.1 L419.8,122.0 L418.7,122.8 L417.6,123.7 L416.5,124.5 L415.4,125.4 L414.4,126.3 L413.3,127.2 L412.2,128.0 L411.1,128.9 L410.0,129.8 L409.0,130.7 L407.9,131.6 L406.9,132.5 L405.8,133.4 L404.7,134.3 L403.7,135.3 L402.6,136.2 L401.6,137.1 L400.6,138.0 L399.5,139.0 L398.5,139.9 L397.5,140.9 L396.4,141.8 L395.4,142.8 L394.4,143.7 L393.4,144.7 L392.4,145.6 L391.4,146.6 L390.4,147.6 L389.4,148.6 L388.4,149.5 L387.4,150.5 L386.4,151.5 L385.5,152.5 L384.5,153.5 L383.5,154.5 L382.6,155.5 L381.6,156.5 L380.6,157.5 L379.7,158.5 L378.7,159.5 L377.8,160.6 L376.9,161.6 L375.9,162.6 L375.0,163.7 L374.1,164.7 L373.2,165.7 L372.2,166.8 L371.3,167.8 L370.4,168.9 L369.5,169.9 L368.6,171.0 L367.8,172.0 L366.9,173.1 L366.0,174.2 L365.1,175.2 L364.2,176.3 L363.4,177.4 L362.5,178.5 L361.7,179.5 L360.8,180.6 L360.0,181.7 L359.1,182.8 L358.3,183.9 L357.4,185.0 L356.6,186.1 L355.8,187.2 L355.0,188.3 L354.1,189.4 L353.3,190.5 L352.5,191.6 L351.7,192.8 L350.9,193.9 L350.1,195.0 L349.3,196.1 L348.5,197.3 L347.8,198.4 L347.0,199.5 L346.2,200.7 L345.4,201.8 L344.7,203.0 L343.9,204.1 L343.2,205.2 L342.4,206.4 L341.6,207.5 L340.9,208.7 L340.2,209.9 L339.4,211.0 L338.7,212.2 L337.9,213.3 L337.2,214.5 L336.5,215.7 L335.8,216.9 L335.1,218.0 L334.3,219.2 L333.6,220.4 L332.9,221.6 L332.2,222.7 L331.5,223.9 L330.8,225.1 L330.1,226.3 L329.4,227.5 L328.8,228.7 L328.1,229.9 L327.4,231.1 L326.7,232.3 L326.0,233.5 L325.4,234.7 L324.7,235.9 L324.0,237.1 L323.4,238.3 L322.7,239.5 L322.1,240.7 L321.4,241.9 L320.8,243.2 L320.1,244.4 L319.5,245.6 L318.8,246.8 L318.2,248.0 L317.6,249.3 L316.9,250.5 L316.3,251.7 L315.7,252.9 L315.1,254.2 L314.5,255.4 L313.8,256.6 L313.2,257.9 L312.6,259.1 L312.0,260.3 L311.4,261.6 L310.8,262.8 L310.2,264.1 L309.6,265.3 L309.0,266.6 L308.4,267.8 L307.8,269.1 L307.2,270.3 L306.7,271.6 L306.1,272.8 L305.5,274.1 L304.9,275.3 L304.3,276.6 L303.8,277.8 L303.2,279.1 L302.6,280.4 L302.1,281.6 L301.5,282.9 L300.9,284.2 L300.4,285.4 L299.8,286.7 L299.3,288.0 L298.7,289.2 L298.2,290.5 L297.6,291.8 L297.1,293.0 L296.5,294.3 L296.0,295.6 L295.5,296.9 L294.9,298.2 L294.4,299.4 L293.9,300.7 L293.3,302.0 L292.8,303.3 L292.3,304.6 L291.8,305.8 L291.2,307.1 L290.7,308.4 L290.2,309.7 L289.7,311.0 L289.2,312.3 L288.7,313.6 L288.2,314.9 L287.7,316.2 L287.2,317.4 L286.7,318.7 L286.2,320.0 L285.7,321.3 L285.2,322.6 L284.7,323.9 L284.2,325.2 L283.7,326.5 L283.2,327.8 L282.7,329.1 L282.2,330.4 L281.7,331.7 L281.2,333.0 L280.8,334.3 L280.3,335.6 L279.8,337.0 L279.3,338.3 L278.8,339.6 L278.4,340.9 L277.9,342.2 L277.4,343.5 L276.9,344.8 L276.5,346.1 L276.0,347.4 L275.5,348.7 L275.1,350.0 L274.6,351.4 L274.2,352.7 L273.7,354.0 L273.2,355.3 L272.8,356.6 L272.3,357.9 L271.9,359.2 L271.4,360.6 L271.0,361.9 L270.5,363.2 L270.1,364.5 L269.6,365.8 L269.2,367.1 L268.7,368.5 L268.3,369.8 L267.8,371.1 L267.4,372.4 L266.9,373.7 L266.5,375.1 L266.1,376.4 L265.6,377.7 L265.2,379.0 L264.7,380.3 L264.3,381.7 L263.9,383.0 L263.4,384.3 L263.0,385.6 L262.6,386.9 L262.1,388.3 L261.7,389.6 L261.3,390.9 L260.8,392.2 L260.4,393.5 L260.0,394.9 L259.5,396.2 L259.1,397.5 L258.7,398.8 L258.3,400.2 L257.8,401.5 L257.4,402.8 L257.0,404.1 L256.6,405.5 L256.1,406.8 L255.7,408.1 L255.3,409.4 L254.9,410.7 L254.5,412.1 L254.0,413.4 L253.6,414.7 L253.2,416.0 L252.8,417.4 L252.4,418.7 L251.9,420.0 L251.5,421.3 L251.1,422.6 L250.7,424.0 L250.3,425.3 L249.9,426.6 L249.4,427.9 L249.0,429.2 L248.6,430.6 L248.2,431.9 L247.8,433.2 L247.4,434.5 L246.9,435.8 L246.5,437.2 L246.1,438.5 L245.7,439.8 L245.3,441.1 L244.9,442.4 L244.4,443.7 L244.0,445.1 L243.6,446.4 L243.2,447.7 L242.8,449.0 L242.4,450.3 L242.0,451.6 L241.5,452.9 L241.1,454.2 L240.7,455.6 L240.3,456.9 L239.9,458.2 L239.5,459.5 L239.0,460.8 L238.6,462.1 L238.2,463.4 L237.8,464.7 L237.4,466.0 L237.0,467.3 L236.5,468.6 L236.1,469.9 L235.7,471.2 L235.3,472.5 L234.9,473.8 L234.4,475.1 L234.0,476.4 L233.6,477.7 L233.2,479.0 L232.8,480.3 L232.3,481.6 L231.9,482.9" stroke="#800080"/>
<path d="M666.3,50.4 L666.1,50.1 L665.9,49.8 L665.7,49.5 L665.5,49.2 L665.5,49.2 L665.3,48.9 L665.1,48.7 L664.8,48.4 L664.6,48.1 L664.6,48.1 L664.4,47.9 L664.2,47.6 L663.9,47.4 L663.7,47.1 L663.7,47.1 L663.5,46.9 L663.2,46.7 L663.0,46.5 L662.7,46.2 L662.7,46.2 L662.4,46.0 L662.2,45.8 L661.9,45.6 L661.6,45.4 L661.6,45.4 L661.4,45.2 L661.1,45.1 L660.8,44.9 L660.5,44.7 L660.5,44.7 L660.3,44.6 L660.0,44.4 L659.7,44.2 L659.4,44.1 L659.3,44.0 L659.1,43.9 L658.8,43.8 L658.5,43.7 L658.2,43.5 L658.1,43.5 L657.9,43.4 L657.6,43.3 L657.3,43.1 L656.9,43.0 L656.8,43.0 L656.6,42.9 L656.3,42.8 L656.0,42.7 L655.7,42.6 L655.5,42.6 L655.4,42.5 L655.0,42.4 L654.7,42.3 L654.4,42.2 L654.2,42.2 L654.1,42.2 L653.7,42.1 L653.4,42.0 L653.1,41.9 L652.9,41.9 L652.8,41.9 L652.4,41.8 L652.1,41.7 L651.8,41.7 L651.6,41.6 L651.4,41.6 L651.1,41.6 L650.8,41.5 L650.4,41.5 L650.2,41.4 L650.1,41.4 L649.8,41.4 L649.4,41.3 L649.1,41.3 L648.9,41.3 L648.8,41.3 L648.4,41.2 L648.1,41.2 L647.8,41.2 L647.5,41.1 L647.4,41.1 L647.1,41.1 L646.8,41.1 L646.4,41.1 L646.2,41.0 L646.1,41.0 L645.8,41.0 L645.4,41.0 L645.1,41.0 L644.8,41.0 L644.8,41.0 L644.4,41.0 L644.1,41.0 L643.8,41.0 L643.5,41.0 L643.4,41.0 L643.1,41.0 L642.8,41.0 L642.4,41.0 L642.1,41.0 L642.1,41.0 L641.7,41.0 L641.4,41.0 L641.1,41.0 L640.8,41.0 L640.7,41.0 L640.4,41.0 L640.1,41.0 L639.7,41.0 L639.4,41.1 L639.4,41.1 L639.1,41.1 L638.7,41.1 L638.4,41.1 L638.1,41.1 L638.1,41.1 L637.7,41.2 L637.4,41.2 L637.1,41.2 L636.7,41.3 L636.7,41.3 L636.4,41.3 L636.1,41.3 L635.7,41.3 L635.4,41.4 L635.4,41.4 L635.1,41.4 L634.7,41.4 L634.4,41.5 L634.1,41.5 L634.0,41.5 L633.7,41.6 L633.4,41.6 L633.1,41.6 L632.7,41.7 L632.6,41.7 L632.4,41.7 L632.0,41.8 L631.7,41.8 L631.4,41.8 L631.3,41.9 L631.0,41.9 L630.7,41.9 L630.4,42.0 L630.0,42.0 L629.9,42.0 L629.7,42.1 L629.4,42.1 L628.6,42.2 L627.2,42.4 L625.9,42.7 L624.5,42.9 L623.2,43.1 L621.8,43.3 L620.5,43.5 L619.1,43.7 L617.8,43.9 L616.4,44.1 L615.1,44.3 L613.7,44.5 L612.4,44.7 L611.0,44.9 L609.7,45.1 L608.3,45.3 L607.0,45.5 L605.6,45.6 L604.3,45.8 L603.0,46.0 L601.6,46.2 L600.3,46.4 L598.9,46.6 L597.6,46.8 L596.2,47.0 L594.9,47.2 L593.6,47.4 L592.2,47.6 L590.9,47.9 L589.5,48.1 L588.2,48.3 L586.9,48.6 L585.5,48.8 L584.2,49.1 L582.9,49.4 L581.5,49.7 L580.2,50.0 L578.9,50.3 L577.5,50.6 L576.2,50.9 L574.9,51.2 L573.6,51.6 L572.2,51.9 L570.9,52.3 L569.6,52.7 L568.3,53.0 L566.9,53.4 L565.6,53.8 L564.3,54.2 L563.0,54.6 L561.7,55.0 L560.3,55.4 L559.0,55.9 L557.7,56.3 L556.4,56.7 L555.1,57.2 L553.8,57.6 L552.5,58.0 L551.2,58.5 L549.8,58.9 L548.5,59.4 L547.2,59.8 L545.9,60.2 L544.6,60.7 L543.3,61.1 L542.0,61.6 L540.7,62.0 L539.4,62.5 L538.1,62.9 L536.8,63.4 L535.5,63.8 L534.2,64.2 L532.9,64.7 L531.6,65.1 L530.4,65.6 L529.1,66.0 L527.8,66.4 L526.5,66.9 L525.2,67.3 L523.9,67.7 L522.6,68.2 L521.4,68.6 L520.1,69.0 L518.8,69.5 L517.5,69.9 L516.3,70.3 L515.0,70.8 L513.7,71.2 L512.4,71.6 L511.2,72.1 L509.9,72.5 L508.6,73.0 L507.4,73.4 L506.1,73.9 L504.8,74.3 L503.6,74.8 L502.3,75.2 L501.1,75.7 L499.8,76.1 L498.6,76.6 L497.3,77.1 L496.1,77.5 L494.8,78.0 L493.6,78.5 L492.3,78.9 L491.1,79.4 L489.8,79.9 L488.6,80.4 L487.4,80.9 L486.1,81.4 L484.9,81.9 L483.7,82.4 L482.4,82.9 L481.2,83.4 L480.0,83.9 L478.7,84.5 L477.5,85.0 L476.3,85.5 L475.1,86.1 L473.9,86.6 L472.7,87.2 L471.4,87.7 L470.2,88.3 L469.0,88.9 L467.8,89.4 L466.6,90.0 L465.4,90.6 L464.2,91.2 L463.0,91.8 L461.8,92.4 L460.6,93.0 L459.4,93.7 L458.2,94.3 L457.0,94.9 L455.8,95.6 L454.7,96.2 L453.5,96.9 L452.3,97.6 L451.1,98.2 L449.9,98.9 L448.8,99.6 L447.6,100.3 L446.4,101.0 L445.3,101.7 L444.1,102.4 L442.9,103.1 L441.8,103.8 L440.6,104.6 L439.5,105.3 L438.3,106.1 L437.2,106.8 L436.0,107.6 L434.9,108.3 L433.7,109.1 L432.6,109.8 L431.5,110.6 L430.3,111.4 L429.2,112.2 L428.1,113.0 L426.9,113.8 L425.8,114.6 L424.7,115.4 L423.6,116.2 L422.5,117.0 L421.4,117.8 L420.3,118.7 L419.2,119.5 L418.1,120.3 L417.0,121.2 L415.9,122.0 L414.8,122.9 L413.7,123.7 L412.6,124.6 L411.5,125.5 L410.5,126.3 L409.4,127.2 L408.3,128.1 L407.2,128.9 L406.2,129.8 L405.1,130.7 L404.1,131.6 L403.0,132.5 L402.0,133.4 L400.9,134.3 L399.9,135.2 L398.9,136.1 L397.8,137.0 L396.8,137.9 L395.8,138.8 L394.7,139.8 L393.7,140.7 L392.7,141.6 L391.7,142.5 L390.7,143.5 L389.7,144.4 L388.7,145.3 L387.7,146.3 L386.7,147.2 L385.7,148.1 L384.8,149.1 L383.8,150.0 L382.8,151.0 L381.8,151.9 L380.9,152.9 L379.9,153.9 L379.0,154.8 L378.0,155.8 L377.1,156.7 L376.1,157.7 L375.2,158.7 L374.2,159.7 L373.3,160.7 L372.4,161.6 L371.5,162.6 L370.6,163.6 L369.7,164.6 L368.8,165.6 L367.9,166.6 L367.0,167.6 L366.1,168.6 L365.2,169.6 L364.3,170.7 L363.4,171.7 L362.6,172.7 L361.7,173.7 L360.8,174.8 L360.0,175.8 L359.1,176.8 L358.3,177.9 L357.4,178.9 L356.6,180.0 L355.8,181.0 L354.9,182.1 L354.1,183.2 L353.3,184.2 L352.5,185.3 L351.7,186.4 L350.9,187.5 L350.1,188.6 L349.3,189.7 L348.5,190.8 L347.8,191.9 L347.0,193.0 L346.2,194.1 L345.5,195.2 L344.7,196.3 L344.0,197.4 L343.2,198.6 L342.5,199.7 L341.7,200.8 L341.0,202.0 L340.3,203.1 L339.6,204.2 L338.9,205.4 L338.1,206.6 L337.4,207.7 L336.7,208.9 L336.0,210.0 L335.4,211.2 L334.7,212.4 L334.0,213.6 L333.3,214.7 L332.6,215.9 L332.0,217.1 L331.3,218.3 L330.7,219.5 L330.0,220.7 L329.4,221.9 L328.7,223.1 L328.1,224.3 L327.4,225.5 L326.8,226.7 L326.2,227.9 L325.5,229.1 L324.9,230.3 L324.3,231.5 L323.7,232.8 L323.1,234.0 L322.5,235.2 L321.9,236.4 L321.3,237.7 L320.7,238.9 L320.1,240.1 L319.5,241.4 L318.9,242.6 L318.4,243.8 L317.8,245.1 L317.2,246.3 L316.6,247.6 L316.1,248.8 L315.5,250.1 L315.0,251.3 L314.4,252.6 L313.9,253.8 L313.3,255.1 L312.8,256.3 L312.2,257.6 L311.7,258.8 L311.2,260.1 L310.6,261.3 L310.1,262.6 L309.6,263.9 L309.1,265.1 L308.5,266.4 L308.0,267.7 L307.5,268.9 L307.0,270.2 L306.5,271.4 L306.0,272.7 L305.5,274.0 L305.0,275.2 L304.5,276.5 L304.0,277.8 L303.5,279.1 L303.0,280.3 L302.5,281.6 L302.0,282.9 L301.6,284.1 L301.1,285.4 L300.6,286.7 L300.1,288.0 L299.7,289.2 L299.2,290.5 L298.7,291.8 L298.3,293.1 L297.8,294.4 L297.4,295.6 L296.9,296.9 L296.5,298.2 L296.0,299.5 L295.6,300.8 L295.1,302.0 L294.7,303.3 L294.2,304.6 L293.8,305.9 L293.4,307.2 L292.9,308.5 L292.5,309.8 L292.1,311.0 L291.6,312.3 L291.2,313.6 L290.8,314.9 L290.4,316.2 L289.9,317.5 L289.5,318.8 L289.1,320.1 L288.7,321.4 L288.3,322.7 L287.9,324.0 L287.5,325.3 L287.1,326.5 L286.7,327.8 L286.3,329.1 L285.9,330.4 L285.5,331.7 L285.1,333.0 L284.7,334.3 L284.3,335.6 L283.9,336.9 L283.5,338.2 L283.1,339.5 L282.7,340.8 L282.3,342.1 L282.0,343.4 L281.6,344.7 L281.2,346.0 L280.8,347.3 L280.4,348.6 L280.1,349.9 L279.7,351.2 L279.3,352.6 L279.0,353.9 L278.6,355.2 L278.2,356.5 L277.9,357.8 L277.5,359.1 L277.1,360.4 L276.8,361.7 L276.4,363.0 L276.0,364.3 L275.7,365.6 L275.3,366.9 L275.0,368.2 L274.6,369.6 L274.3,370.9 L273.9,372.2 L273.6,373.5 L273.2,374.8 L272.9,376.1 L272.5,377.4 L272.2,378.7 L271.8,380.1 L271.5,381.4 L271.1,382.7 L270.8,384.0 L270.4,385.3 L270.1,386.6 L269.8,387.9 L269.4,389.3 L269.1,390.6 L268.8,391.9 L268.4,393.2 L268.1,394.5 L267.7,395.8 L267.4,397.2 L267.1,398.5 L266.7,399.8 L266.4,401.1 L266.1,402.4 L265.7,403.7 L265.4,405.1 L265.1,406.4 L264.8,407.7 L264.4,409.0 L264.1,410.3 L263.8,411.7 L263.4,413.0 L263.1,414.3 L262.8,415.6 L262.5,416.9 L262.1,418.2 L261.8,419.6 L261.5,420.9 L261.2,422.2 L260.8,423.5 L260.5,424.9 L260.2,426.2 L259.9,427.5 L259.5,428.8 L259.2,430.1 L258.9,431.5 L258.6,432.8 L258.3,434.1 L257.9,435.4 L257.6,436.7 L257.3,438.1 L257.0,439.4 L256.6,440.7 L256.3,442.0 L256.0,443.4 L255.7,444.7 L255.4,446.0 L255.0,447.3 L254.7,448.6 L254.4,450.0 L254.1,451.3 L253.7,452.6 L253.4,453.9 L253.1,455.3 L252.8,456.6 L252.4,457.9 L252.1,459.2 L251.8,460.5 L251.5,461.9 L251.1,463.2 L250.8,464.5 L250.5,465.8 L250.2,467.2 L249.8,468.5 L249.5,469.8 L249.2,471.1 L248.8,472.4 L248.5,473.8 L248.2,475.1 L247.9,476.4 L247.5,477.7 L247.2,479.0 L246.9,480.4 L246.5,481.7 L246.2,483.0" stroke="#008000"/>
</g>
<line x1="97.0" y1="35.1" x2="166.6" y2="35.1" stroke="#000000" stroke-width="2.5"/>
<text transform="translate(172.5,44.2) scale(1.0,1.025)" font-family="'Liberation Serif','Times New Roman',Times,serif" font-size="29.5" stroke="#000" stroke-width="0.45" stroke-linejoin="round">Ni Electrode</text>
<line x1="97.0" y1="77.8" x2="166.6" y2="77.8" stroke="#ff0000" stroke-width="2.5"/>
<text transform="translate(172.5,86.9) scale(1.0,1.025)" font-family="'Liberation Serif','Times New Roman',Times,serif" font-size="29.5" stroke="#000" stroke-width="0.45" stroke-linejoin="round">Nafion<tspan font-size="17.8" dy="-14.4">TM</tspan></text>
<line x1="97.0" y1="114.5" x2="166.6" y2="114.5" stroke="#0000ff" stroke-width="2.5"/>
<text transform="translate(172.5,123.6) scale(0.978,1.025)" font-family="'Liberation Serif','Times New Roman',Times,serif" font-size="29.5" stroke="#000" stroke-width="0.45" stroke-linejoin="round">HB01</text>
<line x1="97.0" y1="150.6" x2="166.6" y2="150.6" stroke="#800080" stroke-width="2.5"/>
<text transform="translate(172.5,160.0) scale(0.978,1.025)" font-family="'Liberation Serif','Times New Roman',Times,serif" font-size="29.5" stroke="#000" stroke-width="0.45" stroke-linejoin="round">HB02</text>
<line x1="97.0" y1="186.9" x2="166.6" y2="186.9" stroke="#008000" stroke-width="2.5"/>
<text transform="translate(172.5,196.6) scale(0.978,1.025)" font-family="'Liberation Serif','Times New Roman',Times,serif" font-size="29.5" stroke="#000" stroke-width="0.45" stroke-linejoin="round">HB03</text>
<rect x="425.3" y="49.6" width="135.9" height="77.6" fill="none" stroke="#800000" stroke-width="3.1" stroke-linejoin="round"/>
<text transform="translate(431.7,77.4) scale(0.76,1.015)" font-family="'Liberation Serif','Times New Roman',Times,serif" font-size="29.6" fill="#800000" stroke="#800000" stroke-width="0.85">1</text>
<rect x="289" y="144.3" width="140.3" height="77.6" fill="none" stroke="#800000" stroke-width="3.1" stroke-linejoin="round"/>
<text transform="translate(292.6,171.5) scale(1.1,1.0)" font-family="'Liberation Serif','Times New Roman',Times,serif" font-size="29.6" fill="#800000" stroke="#800000" stroke-width="0.45">2</text>
<rect x="228" y="263" width="140.0" height="77.3" fill="none" stroke="#800000" stroke-width="3.1" stroke-linejoin="round"/>
<text transform="translate(232.2,291.2) scale(0.95,1.08)" font-family="'Liberation Serif','Times New Roman',Times,serif" font-size="29.6" fill="#800000" stroke="#800000" stroke-width="0.45">3</text>
<line x1="97.0" y1="302.3" x2="666.2" y2="302.3" stroke="#000" stroke-width="1.8" stroke-dasharray="6.4 4.015" stroke-dashoffset="0.415"/>
<rect x="97.0" y="14.0" width="569.2" height="460.9" fill="none" stroke="#000" stroke-width="2.2"/>
<g stroke="#000" stroke-width="2">
<line x1="87.7" y1="14.0" x2="97.0" y2="14.0"/>
<line x1="87.7" y1="158.0" x2="97.0" y2="158.0"/>
<line x1="87.7" y1="302.1" x2="97.0" y2="302.1"/>
<line x1="87.7" y1="446.1" x2="97.0" y2="446.1"/>
<line x1="92.0" y1="86.0" x2="97.0" y2="86.0"/>
<line x1="92.0" y1="230.0" x2="97.0" y2="230.0"/>
<line x1="92.0" y1="374.1" x2="97.0" y2="374.1"/>
<line x1="666.2" y1="474.9" x2="666.2" y2="483.5"/>
<line x1="503.6" y1="474.9" x2="503.6" y2="483.5"/>
<line x1="340.9" y1="474.9" x2="340.9" y2="483.5"/>
<line x1="178.3" y1="474.9" x2="178.3" y2="483.5"/>
<line x1="584.9" y1="474.9" x2="584.9" y2="479.9"/>
<line x1="422.3" y1="474.9" x2="422.3" y2="479.9"/>
<line x1="259.6" y1="474.9" x2="259.6" y2="479.9"/>
<line x1="97.0" y1="474.9" x2="97.0" y2="479.9"/>
</g>
<g font-family="'Liberation Serif','Times New Roman',Times,serif" font-size="30" fill="#000" stroke="#000" stroke-width="0.45" stroke-linejoin="round">
<text transform="translate(83.4,22.6) scale(0.976,1.04)" text-anchor="end">0</text>
<text transform="translate(83.4,166.6) scale(0.976,1.04)" text-anchor="end">-5</text>
<text transform="translate(83.4,310.7) scale(0.976,1.04)" text-anchor="end">-10</text>
<text transform="translate(83.4,454.7) scale(0.976,1.04)" text-anchor="end">-15</text>
<text transform="translate(666.2,511.4) scale(0.95,1.06)" text-anchor="middle">0.0</text>
<text transform="translate(503.6,511.4) scale(0.95,1.06)" text-anchor="middle">-0.1</text>
<text transform="translate(340.9,511.4) scale(0.95,1.06)" text-anchor="middle">-0.2</text>
<text transform="translate(178.3,511.4) scale(0.95,1.06)" text-anchor="middle">-0.3</text>
</g>
<text x="382" y="552.3" text-anchor="middle" font-family="'Liberation Serif','Times New Roman',Times,serif" font-size="29.7" stroke="#000" stroke-width="0.45" stroke-linejoin="round">Potential (V vs RHE)</text>
<g font-family="'Liberation Serif','Times New Roman',Times,serif" fill="#000" stroke="#000" stroke-width="0.45" stroke-linejoin="round">
<text transform="translate(22.6,355.2) rotate(-90) scale(1.23,1.06)" font-size="30" font-style="italic" stroke-width="0.25">J</text>
<text transform="translate(33.8,340.3) rotate(-90)" font-size="13.8" stroke-width="0.3">Geometric</text>
<text transform="translate(23.2,279) rotate(-90)" font-size="23.5">(mA.cm</text>
<text transform="translate(9,201) rotate(-90)" font-size="12.8" stroke-width="0.3">-2</text>
<text transform="translate(23.2,191) rotate(-90)" font-size="23.5">)</text>
</g>
</svg>
</body></html>
